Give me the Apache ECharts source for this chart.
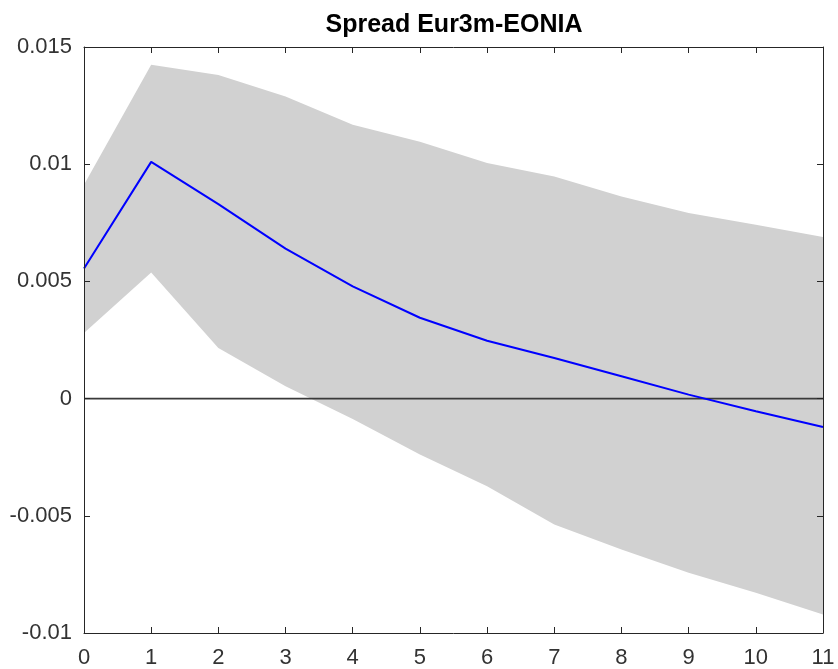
<!DOCTYPE html>
<html>
<head>
<meta charset="utf-8">
<script src="https://cdn.jsdelivr.net/npm/echarts@6/dist/echarts.min.js"></script>
<style>
  html, body { margin: 0; padding: 0; background: #ffffff; }
  #chart { width: 838px; height: 669px; }
</style>
</head>
<body>
<div id="chart"></div>
<script>
// Impulse response horizon (periods)
const periods = [0, 1, 2, 3, 4, 5, 6, 7, 8, 9, 10, 11];
// Point response of the spread
const irf = [0.00555, 0.0101, 0.0083, 0.0064, 0.00479, 0.00345, 0.00247, 0.00173, 0.00095, 0.00017, -0.00054, -0.00121];
// Confidence band bounds
const bandUpper = [0.00912, 0.01424, 0.01381, 0.01289, 0.01168, 0.01096, 0.01005, 0.00948, 0.00862, 0.00792, 0.00742, 0.00689];
const bandLower = [0.0028, 0.00538, 0.00216, 0.00053, -0.00087, -0.00239, -0.00374, -0.00537, -0.00644, -0.00743, -0.00828, -0.00921];
// Axis ranges
const yRange = { min: -0.01, max: 0.015, step: 0.005 };
const xRange = { min: 0, max: 11, step: 1 };

const axisColor = '#262626';
const labelFont = { fontFamily: 'Liberation Sans, Arial, sans-serif', fontSize: 22, color: '#333333' };

function xAxisDef(pos, showLabels) {
  return {
    type: 'value', position: pos, min: xRange.min, max: xRange.max, interval: xRange.step,
    z: 5,
    axisLine: { show: true, onZero: false, lineStyle: { color: axisColor, width: 1 } },
    axisTick: { show: true, inside: true, length: 6, lineStyle: { color: axisColor } },
    axisLabel: Object.assign({ show: showLabels, margin: 14 }, labelFont),
    splitLine: { show: false }
  };
}
function yAxisDef(pos, showLabels) {
  return {
    type: 'value', position: pos, min: yRange.min, max: yRange.max, interval: yRange.step,
    z: 5,
    axisLine: { show: true, onZero: false, lineStyle: { color: axisColor, width: 1 } },
    axisTick: { show: true, inside: true, length: 6, lineStyle: { color: axisColor } },
    axisLabel: Object.assign({ show: showLabels, margin: 12, padding: [3, 0, 0, 0] }, labelFont),
    splitLine: { show: false }
  };
}

// Band polygon: upper bound left-to-right, then lower bound right-to-left
function renderBand(params, api) {
  if (params.dataIndex !== 0) return null;
  const pts = [];
  for (let i = 0; i < periods.length; i++) pts.push(api.coord([periods[i], bandUpper[i]]));
  for (let i = periods.length - 1; i >= 0; i--) pts.push(api.coord([periods[i], bandLower[i]]));
  return {
    type: 'polygon',
    shape: { points: pts },
    style: { fill: '#d1d1d1', stroke: null }
  };
}

const chart = echarts.init(document.getElementById('chart'), null, { renderer: 'canvas' });
chart.setOption({
  animation: false,
  backgroundColor: '#ffffff',
  title: {
    text: 'Spread Eur3m-EONIA',
    left: 454, textAlign: 'center', top: 13, padding: 0,
    textStyle: { fontFamily: 'Liberation Sans, Arial, sans-serif', fontSize: 25, fontWeight: 'bold', color: '#000000' }
  },
  grid: { left: 84, right: 15, top: 47, bottom: 35 },
  xAxis: [xAxisDef('bottom', true), xAxisDef('top', false)],
  yAxis: [yAxisDef('left', true), yAxisDef('right', false)],
  series: [
    {
      name: 'band', type: 'custom',
      data: periods.map((p, i) => [p, bandLower[i], bandUpper[i]]),
      encode: { x: 0, y: [1, 2] },
      renderItem: renderBand,
      silent: true, clip: true, z: 1
    },
    {
      name: 'zero', type: 'line',
      data: [[xRange.min, 0], [xRange.max, 0]],
      symbol: 'none', silent: true,
      lineStyle: { color: '#3a3a3a', width: 1.6 }, z: 2
    },
    {
      name: 'irf', type: 'line',
      data: periods.map((p, i) => [p, irf[i]]),
      symbol: 'none', silent: true,
      lineStyle: { color: '#0000ff', width: 2 }, z: 3
    }
  ]
});
</script>
</body>
</html>
